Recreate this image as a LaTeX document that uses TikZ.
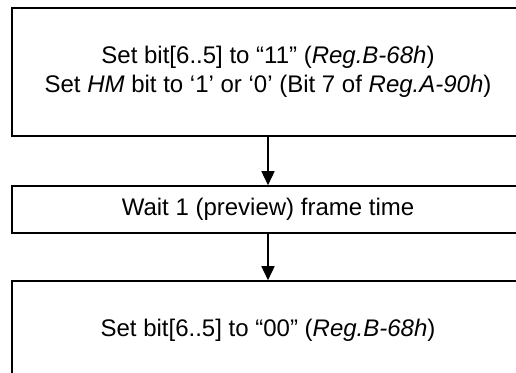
\documentclass[tikz,border=0pt]{standalone}
\usepackage{fontspec}
\setmainfont{Liberation Sans}
\usetikzlibrary{arrows.meta}

\begin{document}
\begin{tikzpicture}[x=1pt,y=1pt,line width=1.6pt,>={Triangle[length=14pt,width=13pt]},
  stepbox/.style={draw,rectangle,minimum width=512pt,align=center,
    font=\fontsize{24}{29}\selectfont}]
% ---------- page frame: boxes run off the right and bottom edges ----------
\clip (0,0) rectangle (516,372);
% ---------- the three steps ----------
\node[stepbox,minimum height=128pt] (setb) at (268,300)
  {Set bit[6..5] to “11” (\textit{Reg.B-68h})\\
   Set \textit{HM} bit to ‘1’ or ‘0’ (Bit 7 of \textit{Reg.A-90h})};
\node[stepbox,minimum height=47pt] (wait) at (268,162.5)
  {Wait 1 (preview) frame time};
\node[stepbox,minimum height=98pt] (clrb) at (268,42)
  {Set bit[6..5] to “00” (\textit{Reg.B-68h})};
% ---------- arrows between steps ----------
\draw[->] (setb.south) -- (wait.north);
\draw[->] (wait.south) -- (clrb.north);
\end{tikzpicture}
\end{document}
